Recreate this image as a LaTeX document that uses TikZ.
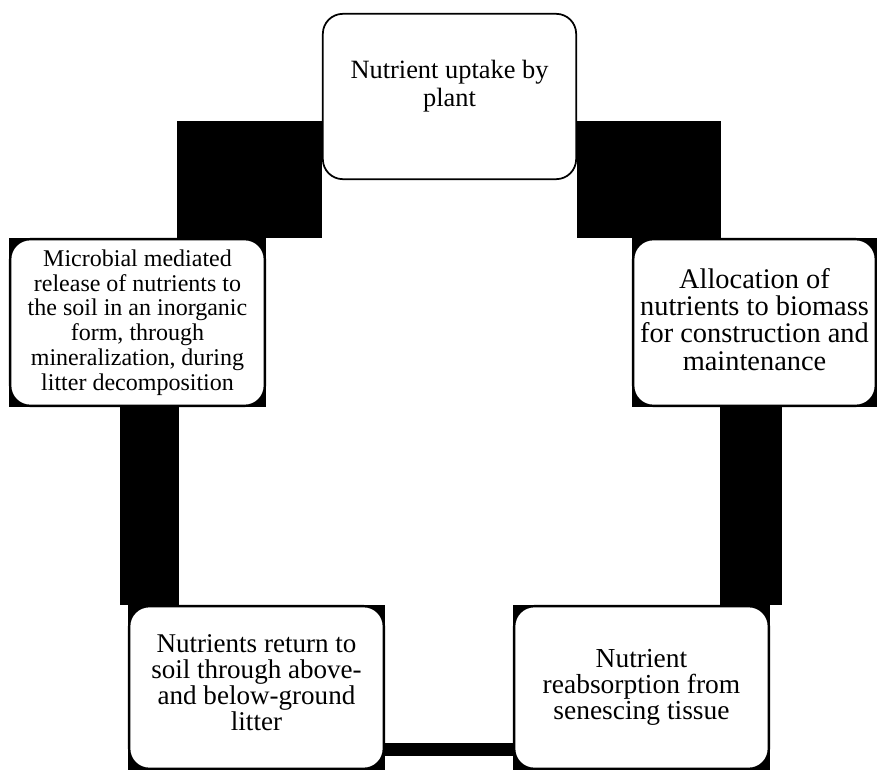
\documentclass[tikz,border=0pt]{standalone}
\usepackage{fontspec}
\setmainfont{Liberation Serif}
\usetikzlibrary{backgrounds}
\begin{document}
\begin{tikzpicture}[x=0.75pt,y=-0.75pt,
  box/.style={draw=black, line width=1.8pt, fill=white, rounded corners=15pt,
    align=center, inner sep=0pt, font=\fontsize{18}{18.6}\selectfont},
  tbox/.style={box, line width=1.3pt},
  label/.style={align=center, inner sep=0pt},
  bar/.style={fill=black}]
\useasboundingbox (0,0) rectangle (877,770);
\node[tbox, minimum width=190pt, minimum height=124pt] (T) at (449.5,96.5) {};
\node[label, font=\fontsize{19.8}{21}\selectfont] (Tt) at (T.center) [yshift=7.5pt] {Nutrient uptake by\\plant};
\node[box, minimum width=191pt, minimum height=125pt] (L) at (137.5,322.5)
  {Microbial mediated\\release of nutrients to\\the soil in an inorganic\\form, through\\mineralization, during\\litter decomposition};
\node[box, minimum width=182pt, minimum height=125pt] (R) at (754.5,322.5) {};
\node[label, font=\fontsize{21.3}{20.5}\selectfont] (Rt) at (R.center) [yshift=2.5pt]
  {Allocation of\\nutrients to biomass\\for construction and\\maintenance};
\node[box, minimum width=191pt, minimum height=122pt] (BL) at (256.5,687.5) {};
\node[label, font=\fontsize{20.3}{19.5}\selectfont] (BLt) at (BL.center) [yshift=4pt]
  {Nutrients return to\\soil through above-\\and below-ground\\litter};
\node[box, minimum width=191pt, minimum height=122pt, font=\fontsize{20.6}{19.5}\selectfont] (BR) at (641.5,687.5)
  {Nutrient\\reabsorption from\\senescing tissue};
\coordinate (tl) at (177,121);
\coordinate (tr) at (721,121);
\coordinate (lv1) at (120,0);
\coordinate (lv2) at (179,0);
\coordinate (rv1) at (720,0);
\coordinate (rv2) at (782,0);
\coordinate (hb1) at (0,743);
\coordinate (hb2) at (0,756);
\begin{pgfonlayer}{background}
  \foreach \n in {L,R,BL,BR} {\fill[bar] (\n.south west) rectangle (\n.north east);}
  \fill[bar] (tl) rectangle (L.north -| T.west);
  \fill[bar] (tr) rectangle (R.north -| T.east);
  \fill[bar] (L.south -| lv1) rectangle (BL.north -| lv2);
  \fill[bar] (R.south -| rv1) rectangle (BR.north -| rv2);
  \fill[bar] (BL.east |- hb1) rectangle (BR.west |- hb2);
\end{pgfonlayer}
\end{tikzpicture}
\end{document}
